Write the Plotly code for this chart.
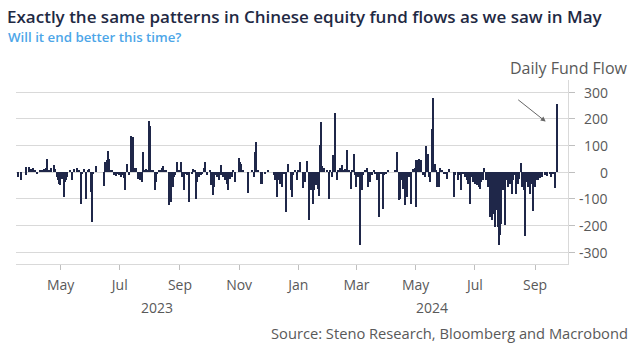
import plotly.graph_objects as go

dates_2023 = ["2023-03-18","2023-03-21","2023-03-26","2023-03-27","2023-03-30","2023-04-01","2023-04-03","2023-04-05","2023-04-07","2023-04-10",
"2023-04-12","2023-04-14","2023-04-16","2023-04-17","2023-04-19","2023-04-21","2023-04-24","2023-04-25","2023-04-27","2023-04-28",
"2023-04-30","2023-05-01","2023-05-03","2023-05-05","2023-05-06","2023-05-07","2023-05-08","2023-05-11","2023-05-13","2023-05-15",
"2023-05-18","2023-05-20","2023-05-22","2023-05-23","2023-05-25","2023-05-27","2023-05-29","2023-05-30","2023-06-01","2023-06-03",
"2023-06-04","2023-06-07","2023-06-15","2023-06-16","2023-06-18","2023-06-19","2023-06-20","2023-06-22","2023-06-23","2023-06-25",
"2023-06-27","2023-06-28","2023-06-30","2023-07-02","2023-07-04","2023-07-05","2023-07-07","2023-07-09","2023-07-11","2023-07-13",
"2023-07-15","2023-07-16","2023-07-17","2023-07-18","2023-07-20","2023-07-22","2023-07-24","2023-07-25","2023-07-27","2023-07-28",
"2023-07-30","2023-07-31","2023-08-01","2023-08-03","2023-08-04","2023-08-06","2023-08-08","2023-08-09","2023-08-11","2023-08-13",
"2023-08-14","2023-08-15","2023-08-16","2023-08-18","2023-08-21","2023-08-22","2023-08-23","2023-08-25","2023-08-26","2023-08-27",
"2023-08-29","2023-08-31","2023-09-02","2023-09-03","2023-09-05","2023-09-07","2023-09-08","2023-09-10","2023-09-11","2023-09-14",
"2023-09-15","2023-09-17","2023-09-18","2023-09-19","2023-09-21","2023-09-23","2023-09-24","2023-09-26","2023-09-27","2023-09-29",
"2023-10-02","2023-10-03","2023-10-05","2023-10-06","2023-10-08","2023-10-09","2023-10-11","2023-10-13","2023-10-14","2023-10-16",
"2023-10-18","2023-10-20","2023-10-21","2023-10-23","2023-10-25","2023-10-26","2023-10-28","2023-11-01","2023-11-02","2023-11-03",
"2023-11-05","2023-11-10","2023-11-14","2023-11-16","2023-11-18","2023-11-19","2023-11-21","2023-11-24","2023-11-25","2023-11-28",
"2023-12-01","2023-12-07","2023-12-08","2023-12-10","2023-12-12","2023-12-13","2023-12-15","2023-12-17","2023-12-19","2023-12-20",
"2023-12-22","2023-12-25","2023-12-26","2023-12-27","2023-12-29","2023-12-31"]
flows_2023 = [-20,-30,19,-12,19,12,15,6,-6,4,
9,12,16,50,6,16,25,12,-19,-31,
-44,-50,-25,-94,-37,-31,-19,6,-31,12,
16,6,-119,-6,12,-100,6,12,-75,-188,
-6,21,-54,38,44,79,50,6,6,-12,
-16,-6,-12,-19,-12,-21,-66,31,-12,134,
131,12,16,16,-25,-31,-37,75,6,12,
6,191,174,9,6,-69,-37,-6,6,6,
16,21,9,6,-125,-12,-112,-56,-19,-12,
38,9,38,-19,-66,-6,-12,-112,-19,-6,
12,9,-100,-37,-19,-12,-6,16,38,-12,
6,-50,-87,-56,-12,-19,-31,-12,25,-19,
-31,-44,-66,-25,-19,9,-37,54,38,31,
9,-79,6,-19,75,112,9,-44,-44,-4,
9,-12,-31,-94,-31,-44,-56,-6,-19,-150,
31,-69,-94,-12,6,-31]

dates_2024 = ["2024-01-01","2024-01-03","2024-01-06","2024-01-08","2024-01-10","2024-01-12","2024-01-14","2024-01-16","2024-01-17","2024-01-19",
"2024-01-21","2024-01-22","2024-01-24","2024-01-25","2024-01-26","2024-01-28","2024-01-31","2024-02-02","2024-02-03","2024-02-05",
"2024-02-06","2024-02-08","2024-02-10","2024-02-11","2024-02-13","2024-02-15","2024-02-17","2024-02-18","2024-02-20","2024-02-22",
"2024-02-24","2024-02-26","2024-02-28","2024-02-29","2024-03-01","2024-03-03","2024-03-04","2024-03-05","2024-03-07","2024-03-08",
"2024-03-10","2024-03-12","2024-03-13","2024-03-15","2024-03-17","2024-03-19","2024-03-20","2024-03-22","2024-03-24","2024-03-26",
"2024-03-28","2024-03-30","2024-04-01","2024-04-03","2024-04-10","2024-04-12","2024-04-14","2024-04-15","2024-04-17","2024-04-18",
"2024-04-20","2024-04-21","2024-04-22","2024-04-24","2024-04-26","2024-04-28","2024-04-30","2024-05-01","2024-05-02","2024-05-04",
"2024-05-05","2024-05-07","2024-05-09","2024-05-11","2024-05-12","2024-05-14","2024-05-15","2024-05-16","2024-05-18","2024-05-19",
"2024-05-21","2024-05-22","2024-05-23","2024-05-25","2024-05-26","2024-05-28","2024-05-30","2024-05-31","2024-06-02","2024-06-04",
"2024-06-05","2024-06-10","2024-06-11","2024-06-14","2024-06-16","2024-06-17","2024-06-19","2024-06-21","2024-06-23","2024-06-24",
"2024-06-26","2024-06-28","2024-06-29","2024-07-01","2024-07-03","2024-07-05","2024-07-06","2024-07-08","2024-07-10","2024-07-11",
"2024-07-13","2024-07-15","2024-07-17","2024-07-18","2024-07-19","2024-07-21","2024-07-22","2024-07-23","2024-07-25","2024-07-26",
"2024-07-27","2024-07-28","2024-07-30","2024-07-31","2024-08-01","2024-08-03","2024-08-04","2024-08-06","2024-08-08","2024-08-09",
"2024-08-11","2024-08-13","2024-08-15","2024-08-16","2024-08-18","2024-08-19","2024-08-21","2024-08-22","2024-08-23","2024-08-25",
"2024-08-27","2024-08-28","2024-08-30","2024-09-01","2024-09-03","2024-09-04","2024-09-06","2024-09-08","2024-09-11","2024-09-14",
"2024-09-17","2024-09-18","2024-09-20","2024-09-22","2024-09-24"]
flows_2024 = [9,38,-59,-37,41,-179,-69,-119,-69,-50,
-62,-91,100,188,21,16,6,-100,6,-19,
62,221,-31,9,16,25,6,12,84,6,
-62,6,69,-12,-56,-19,-12,-275,-69,-12,
6,16,-56,-37,-12,6,-6,-31,-169,-6,
-137,-12,-6,4,6,75,-106,-100,-31,-62,
-125,-69,-94,-19,-121,12,16,46,-131,44,
50,44,-12,-19,96,69,-19,-37,162,279,
31,9,-56,-56,16,6,-6,-6,-25,12,
9,-94,-12,-31,-12,-69,-6,-19,-31,-44,
-119,-19,-37,-44,-50,-56,-62,-37,-31,16,
-31,-56,-169,-131,-181,-156,-206,-144,-206,-275,
-237,-194,-69,-31,-200,-31,-56,-44,-81,-31,
-12,-81,-44,-25,34,-56,-69,-241,-37,-56,
-81,-44,-146,-56,-31,-31,-21,-19,-12,-16,
-4,-19,-6,-59,254]

month_ticks = ["2023-05-01","2023-07-01","2023-09-01","2023-11-01","2024-01-01","2024-03-01","2024-05-01","2024-07-01","2024-09-01"]
month_labels = ["May","Jul","Sep","Nov","Jan","Mar","May","Jul","Sep"]
year_labels = ["2023","2024"]
year_centers = ["2023-08-08","2024-05-18"]
y_ticks = [300,200,100,0,-100,-200,-300]

NAVY = "#1f2749"
GREY = "#595959"
GRID = "#d9d9d9"

fig = go.Figure()
fig.add_trace(go.Bar(
    x=dates_2023 + dates_2024, y=flows_2023 + flows_2024,
    marker=dict(color=NAVY, line=dict(width=0)),
    width=1.4 * 86400000, showlegend=False,
))

annotations = []
for v in y_ticks:
    annotations.append(dict(xref="paper", yref="y", x=1.0765, y=v, text=str(v),
                            showarrow=False, xanchor="right", yanchor="middle",
                            font=dict(family="Open Sans", size=14, color=GREY)))
for lab, c in zip(year_labels, year_centers):
    annotations.append(dict(xref="x", yref="paper", x=c, y=-0.239, text=lab,
                            showarrow=False, xanchor="center", yanchor="middle",
                            font=dict(family="Open Sans", size=14, color=GREY)))
annotations += [
    dict(xref="paper", yref="paper", x=-0.0175, y=1.2337, text="Will it end better this time?",
         showarrow=False, xanchor="left", yanchor="middle",
         font=dict(family="Open Sans", size=13.3, weight=600, color="#4da6e8")),
    dict(xref="paper", yref="paper", x=1.1123, y=1.065, text="Daily Fund Flow",
         showarrow=False, xanchor="right", yanchor="middle",
         font=dict(family="Open Sans", size=16, color=GREY)),
    dict(xref="paper", yref="paper", x=1.1123, y=-0.375, text="Source: Steno Research, Bloomberg and Macrobond",
         showarrow=False, xanchor="right", yanchor="middle",
         font=dict(family="Open Sans", size=14.7, color=GREY)),
    dict(xref="x", yref="y", x="2024-09-12", y=189, ax=-29, ay=-23, text="",
         showarrow=True, arrowhead=2, arrowsize=1, arrowwidth=1, arrowcolor="#666666"),
]

fig.update_layout(
    width=634, height=352,
    margin=dict(l=16, r=66, t=80, b=88),
    paper_bgcolor="white", plot_bgcolor="white",
    bargap=0,
    title=dict(text="Exactly the same patterns in Chinese equity fund flows as we saw in May",
               x=7/634, xanchor="left", xref="container",
               y=1 - 17/352, yanchor="middle", yref="container",
               font=dict(family="Open Sans", size=17, weight=600, color="#1f2a44")),
    annotations=annotations,
    xaxis=dict(type="date", range=["2023-03-16", "2024-10-05"],
               tickvals=month_ticks, ticktext=month_labels,
               showgrid=False, zeroline=False,
               showline=True, linecolor=GRID, linewidth=1,
               ticks="outside", ticklen=5, tickcolor="#bfbfbf",
               ticklabelstandoff=3,
               tickfont=dict(family="Open Sans", size=14, color=GREY)),
    yaxis=dict(side="right", range=[-345, 345], tickvals=y_ticks,
               showticklabels=False, showgrid=True, gridcolor=GRID, gridwidth=1,
               zeroline=False, showline=True, linecolor=GRID, linewidth=1,
               ticks="outside", ticklen=6, tickcolor="#bfbfbf"),
)

fig.write_html("out.html")
